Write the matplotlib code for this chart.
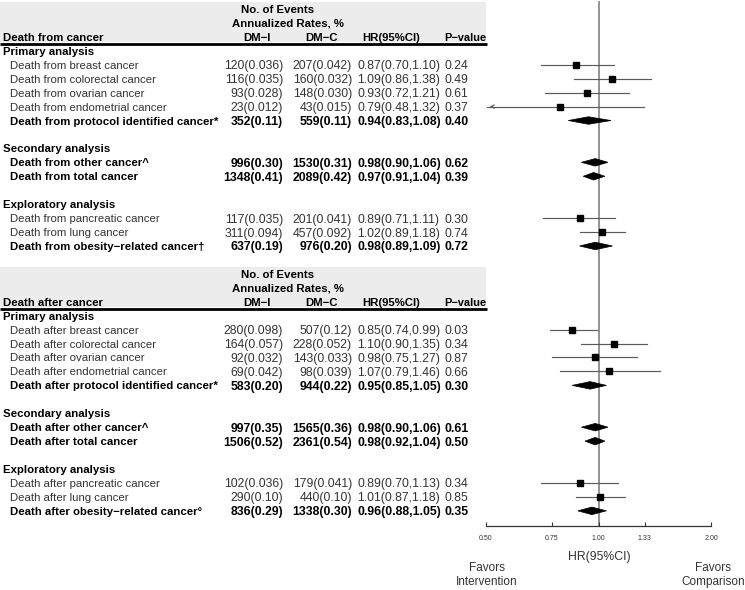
import numpy as np
import matplotlib.pyplot as plt
from matplotlib.patches import Rectangle, Polygon
from matplotlib.transforms import blended_transform_factory

plt.rcParams['font.family'] = ['Liberation Sans', 'DejaVu Sans']

# ---- data: death from cancer
top_labels = ["Death from breast cancer", "Death from colorectal cancer",
              "Death from ovarian cancer", "Death from endometrial cancer",
              "Death from protocol identified cancer*",
              "Death from other cancer^", "Death from total cancer",
              "Death from pancreatic cancer", "Death from lung cancer",
              "Death from obesity\u2212related cancer\u2020"]
top_dmi = ["120(0.036)", "116(0.035)", "93(0.028)", "23(0.012)", "352(0.11)",
           "996(0.30)", "1348(0.41)", "117(0.035)", "311(0.094)", "637(0.19)"]
top_dmc = ["207(0.042)", "160(0.032)", "148(0.030)", "43(0.015)", "559(0.11)",
           "1530(0.31)", "2089(0.42)", "201(0.041)", "457(0.092)", "976(0.20)"]
top_hr = [0.87, 1.09, 0.93, 0.79, 0.94, 0.98, 0.97, 0.89, 1.02, 0.98]
top_lo = [0.70, 0.86, 0.72, 0.48, 0.83, 0.90, 0.91, 0.71, 0.89, 0.89]
top_hi = [1.10, 1.38, 1.21, 1.32, 1.08, 1.06, 1.04, 1.11, 1.18, 1.09]
top_p = ["0.24", "0.49", "0.61", "0.37", "0.40", "0.62", "0.39", "0.30", "0.74", "0.72"]
top_bold = [False, False, False, False, True, True, True, False, False, True]

# ---- data: death after cancer
bot_labels = ["Death after breast cancer", "Death after colorectal cancer",
              "Death after ovarian cancer", "Death after endometrial cancer",
              "Death after protocol identified cancer*",
              "Death after other cancer^", "Death after total cancer",
              "Death after pancreatic cancer", "Death after lung cancer",
              "Death after obesity\u2212related cancer\u00b0"]
bot_dmi = ["280(0.098)", "164(0.057)", "92(0.032)", "69(0.042)", "583(0.20)",
           "997(0.35)", "1506(0.52)", "102(0.036)", "290(0.10)", "836(0.29)"]
bot_dmc = ["507(0.12)", "228(0.052)", "143(0.033)", "98(0.039)", "944(0.22)",
           "1565(0.36)", "2361(0.54)", "179(0.041)", "440(0.10)", "1338(0.30)"]
bot_hr = [0.85, 1.10, 0.98, 1.07, 0.95, 0.98, 0.98, 0.89, 1.01, 0.96]
bot_lo = [0.74, 0.90, 0.75, 0.79, 0.85, 0.90, 0.92, 0.70, 0.87, 0.88]
bot_hi = [0.99, 1.35, 1.27, 1.46, 1.05, 1.06, 1.04, 1.13, 1.18, 1.05]
bot_p = ["0.03", "0.34", "0.87", "0.66", "0.30", "0.61", "0.50", "0.34", "0.85", "0.35"]
bot_bold = top_bold

sections = ["Primary analysis", "Secondary analysis", "Exploratory analysis"]
section_sizes = [5, 2, 3]
ticks = [0.50, 0.75, 1.00, 1.33, 2.00]

W, H = 745, 590
fig = plt.figure(figsize=(W / 100, H / 100), dpi=100)
pitch = 13.94
ax = fig.add_axes([486 / W, (H - 525.5) / H, 225 / W, 525.5 / H])
ax.set_xscale('log')
ax.set_xlim(0.5, 2.0)
ax.set_ylim((525.5 - 9) / pitch, -9 / pitch)
tr = blended_transform_factory(fig.transFigure, ax.transData)

fs = 8.2      # labels
nfs = 8.8     # numbers
grey = '#333333'


def fx(px):
    return px / W


def draw_block(r0, title, labels, dmi, dmc, hr, lo, hi, pv, bold):
    # header band
    ax.add_patch(Rectangle((0, r0 - 0.5), fx(486), 2.9, transform=tr,
                           facecolor='#ececec', edgecolor='none', clip_on=False, zorder=0))
    ax.plot([0, fx(487)], [r0 + 2.5, r0 + 2.5], transform=tr, color='black',
            lw=2, clip_on=False, solid_capstyle='butt')
    hk = dict(transform=tr, fontsize=fs, fontweight='bold', va='center_baseline')
    ax.text(fx(278), r0, "No. of Events", ha='center', **hk)
    ax.text(fx(288), r0 + 1, "Annualized Rates, %", ha='center', **hk)
    ax.text(fx(3), r0 + 2, title, ha='left', **hk)
    ax.text(fx(257), r0 + 2, "DM\u2212I", ha='center', **hk)
    ax.text(fx(322), r0 + 2, "DM\u2212C", ha='center', **hk)
    ax.text(fx(362), r0 + 2, "HR(95%CI)", ha='left', **hk)
    ax.text(fx(444), r0 + 2, "P\u2212value", ha='left', transform=tr, fontsize=7.9,
            fontweight='bold', va='center_baseline')

    r = r0 + 3
    i = 0
    for sec, n in zip(sections, section_sizes):
        ax.text(fx(3), r, sec, ha='left', **hk)
        r += 1
        for _ in range(n):
            kw = dict(transform=tr, va='center_baseline',
                      fontweight='bold' if bold[i] else 'normal',
                      color='black' if bold[i] else grey)
            ax.text(fx(10), r, labels[i], ha='left', fontsize=fs, **kw)
            ax.text(fx(283), r, dmi[i], ha='right', fontsize=nfs, **kw)
            ax.text(fx(352), r, dmc[i], ha='right', fontsize=nfs, **kw)
            ax.text(fx(357), r, f"{hr[i]:.2f}({lo[i]:.2f},{hi[i]:.2f})", ha='left',
                    fontsize=nfs, **kw)
            ax.text(fx(444), r, pv[i], ha='left', fontsize=nfs, **kw)
            if bold[i]:
                ax.add_patch(Polygon([(lo[i], r), (hr[i], r - 0.27), (hi[i], r), (hr[i], r + 0.27)],
                                     closed=True, facecolor='black', edgecolor='black',
                                     lw=0.5, zorder=3))
            else:
                left = max(lo[i], 0.503)
                ax.plot([left, hi[i]], [r, r], color='#5a5a5a', lw=0.85, zorder=2)
                if lo[i] < 0.5:
                    ax.annotate('', xy=(0.503, r), xytext=(0.53, r),
                                arrowprops=dict(arrowstyle='->', color='#5a5a5a', lw=0.8,
                                                mutation_scale=6))
                ax.plot(hr[i], r, marker='s', color='black', markersize=4.6, zorder=3)
            r += 1
            i += 1
        r += 1
    return r


nxt = draw_block(0, "Death from cancer", top_labels, top_dmi, top_dmc, top_hr,
                 top_lo, top_hi, top_p, top_bold)
draw_block(nxt, "Death after cancer", bot_labels, bot_dmi, bot_dmc, bot_hr,
           bot_lo, bot_hi, bot_p, bot_bold)

# reference line at 1
ax.axvline(1.0, color='#8a8a8a', lw=1.3, zorder=1, ymin=0, ymax=1 - 2 / 525.5)

for s in ['top', 'left', 'right']:
    ax.spines[s].set_visible(False)
ax.spines['bottom'].set_color('#333333')
ax.spines['bottom'].set_linewidth(0.9)
ax.set_yticks([])
ax.set_xticks(ticks)
ax.set_xticks([], minor=True)
ax.set_xticklabels([f"{t:.2f}" for t in ticks])
ax.tick_params(axis='x', direction='in', length=3, width=0.8, colors='#333333',
               labelsize=5, pad=7)

fig.text(fx(599), 1 - 557 / H, "HR(95%CI)", ha='center', va='center',
         fontsize=8.8, color='#333333')
fig.text(fx(487), 1 - 575 / H, "Favors\nIntervention", ha='center', va='center',
         fontsize=8.5, color='#333333', linespacing=1.2)
fig.text(fx(713), 1 - 575 / H, "Favors\nComparison", ha='center', va='center',
         fontsize=8.5, color='#333333', linespacing=1.2)

fig.savefig('out.png', dpi=100)
